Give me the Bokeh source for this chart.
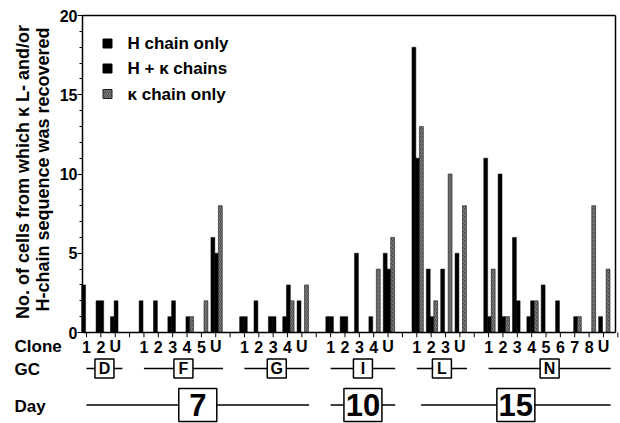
import numpy as np
from bokeh.plotting import figure
from bokeh.models import Range1d, SingleIntervalTicker
from bokeh.core.properties import value
from bokeh.embed import file_html
from bokeh.resources import INLINE

# ---------------- data ----------------
groups = ["D", "F", "G", "I", "L", "N"]
clones = [["1", "2", "U"],
          ["1", "2", "3", "4", "5", "U"],
          ["1", "2", "3", "4", "U"],
          ["1", "2", "3", "4", "U"],
          ["1", "2", "3", "U"],
          ["1", "2", "3", "4", "5", "6", "7", "8", "U"]]
h_only = [3, 2, 1,
          2, 2, 1, 0, 0, 6,
          1, 2, 1, 1, 2,
          1, 1, 5, 1, 5,
          18, 4, 4, 5,
          11, 10, 6, 1, 3, 2, 0, 0, 1]
h_kappa = [0, 2, 2,
           0, 0, 2, 1, 0, 5,
           1, 0, 1, 3, 0,
           1, 1, 0, 0, 4,
           11, 1, 0, 0,
           1, 1, 2, 2, 0, 0, 1, 0, 0]
kappa_only = [0, 0, 0,
              0, 0, 0, 1, 2, 8,
              0, 0, 0, 2, 3,
              0, 0, 0, 4, 6,
              13, 2, 10, 8,
              4, 1, 0, 2, 0, 0, 1, 8, 4]
days = ["7", "10", "15"]
day_groups = [["D", "F", "G"], ["I"], ["L", "N"]]
series_names = ["H chain only", "H + \u03ba chains", "\u03ba chain only"]
y_title = ["No. of cells from which \u03ba L- and/or", "H-chain sequence was recovered"]
row_names = ["Clone", "GC", "Day"]

# ---------------- layout ----------------
FONT = "Liberation Sans"
W_PX, H_PX = 620, 423
X0_PX, DX_PX = 86.0, 14.36      # pixel of slot 0, pixels per slot
Y0_PX, DY_PX = 332.0, 15.85     # pixel of value 0, pixels per unit
HATCH = dict(fill_color="#505050", line_color="#1e1e1e", hatch_pattern="right_diagonal_line",
             hatch_color="#a8a8a8", hatch_scale=4, hatch_weight=0.6)


def sx(px):
    return (px - X0_PX) / DX_PX


def vy(py):
    return (Y0_PX - py) / DY_PX


slot, labels, grp_span = [], [], {}
pos = 0
for g, cl in zip(groups, clones):
    start = pos
    for c in cl:
        slot.append(pos)
        labels.append(c)
        pos += 1
    grp_span[g] = (start, pos - 1)
    pos += 1
n_slots = pos - 1

p = figure(width=W_PX, height=H_PX,
           x_range=Range1d(sx(0), sx(W_PX)), y_range=Range1d(vy(H_PX), vy(0)),
           output_backend="svg", toolbar_location=None, x_axis_location=None,
           min_border=0, min_border_left=0, min_border_right=0,
           min_border_top=0, min_border_bottom=0)
p.outline_line_color = None
p.xgrid.grid_line_color = None
p.ygrid.grid_line_color = None
p.background_fill_color = "white"
p.border_fill_color = "white"

XL, XR = sx(82), sx(615)

ax = p.yaxis[0]
ax.fixed_location = XL
ax.bounds = (0, 20)
ax.ticker = SingleIntervalTicker(interval=5, num_minor_ticks=5)
ax.axis_line_width = 1.5
ax.major_tick_in = 0
ax.major_tick_out = 5
ax.minor_tick_in = 0
ax.minor_tick_out = 3
ax.major_label_standoff = 0
ax.major_label_text_font = FONT
ax.major_label_text_font_style = "bold"
ax.major_label_text_font_size = "16px"
ax.major_label_text_color = "black"

# bars
W = 0.27
offs = [-0.2, 0.06, 0.32]
vals = [h_only, h_kappa, kappa_only]
for k, (v, o) in enumerate(zip(vals, offs)):
    xs = [s + o for s, t in zip(slot, v) if t > 0]
    ts = [t for t in v if t > 0]
    if k < 2:
        p.vbar(x=xs, top=ts, bottom=0, width=W,
               fill_color="black", line_color="black", line_width=0.5)
    else:
        p.vbar(x=xs, top=ts, bottom=0, width=W, line_width=0.6, **HATCH)

# frame: x axis line, top and right borders, ticks
p.segment(x0=[XL, XL, XR], y0=[0, 20, 0], x1=[XR, XR, XR], y1=[0, 20, 20],
          line_color="black", line_width=1.5)
ticks = list(range(0, n_slots + 1))
p.segment(x0=ticks, y0=[0] * len(ticks), x1=ticks, y1=[-0.3] * len(ticks),
          line_color="black", line_width=1)

# clone labels
Y_CLONE = vy(346)
p.text(x=slot, y=[Y_CLONE] * len(slot), text=labels, text_align="center", text_baseline="middle",
       text_font=value(FONT), text_font_style="bold", text_font_size="16px", text_color="black")

# GC row
Y_GC = vy(368)
gx0 = [grp_span[g][0] for g in groups]
gx1 = [grp_span[g][1] + 0.5 for g in groups]
gxc = [(a + b) / 2 for a, b in zip(gx0, gx1)]
p.segment(x0=gx0, y0=[Y_GC] * 6, x1=gx1, y1=[Y_GC] * 6, line_color="black", line_width=1.5)
p.rect(x=gxc, y=[Y_GC] * 6, width=19, height=19, width_units="screen", height_units="screen",
       fill_color="white", line_color="black", line_width=1.5)
p.text(x=gxc, y=[Y_GC] * 6, text=groups, text_align="center", text_baseline="middle",
       text_font=value(FONT), text_font_style="bold", text_font_size="16px", text_color="black")

# Day row
Y_DAY = vy(404.5)
dx0 = [grp_span[dg[0]][0] for dg in day_groups]
dx1 = [grp_span[dg[-1]][1] + 0.5 for dg in day_groups]
dx0[2] = grp_span["L"][0] + 0.3
dxc = [(a + b) / 2 for a, b in zip(dx0, dx1)]
p.segment(x0=dx0, y0=[Y_DAY] * 3, x1=dx1, y1=[Y_DAY] * 3, line_color="black", line_width=1.5)
p.rect(x=dxc, y=[Y_DAY] * 3, width=38, height=33, width_units="screen", height_units="screen",
       fill_color="white", line_color="black", line_width=1.5)
p.text(x=dxc, y=[Y_DAY] * 3, text=days, text_align="center", text_baseline="middle",
       text_font=value(FONT), text_font_style="bold", text_font_size="31px", text_color="black")

# legend (manual swatches + labels)
ly = [vy(43), vy(68), vy(93.5)]
lx = sx(107)
p.rect(x=[lx] * 2, y=ly[:2], width=9, height=9, width_units="screen", height_units="screen",
       fill_color="black", line_color="black")
p.rect(x=[lx], y=ly[2:], width=9, height=9, width_units="screen", height_units="screen", **HATCH)
p.text(x=[sx(127)] * 3, y=ly, text=series_names, text_align="left", text_baseline="middle",
       text_font=value(FONT), text_font_style="bold", text_font_size="17px", text_color="black")

# left-hand row names
p.text(x=[sx(14)] * 3, y=[Y_CLONE, vy(369), vy(406)], text=row_names, text_align="left",
       text_baseline="middle", text_font=value(FONT), text_font_style="bold",
       text_font_size="17px", text_color="black")

# y-axis title (two lines)
p.text(x=[sx(22.5), sx(42)], y=[vy(171.5), vy(169)], text=y_title, angle=np.pi / 2,
       text_align="center", text_baseline="middle", text_font=value(FONT),
       text_font_style="bold", text_font_size="18px", text_color="black")

open("out.html", "w").write(file_html(p, INLINE))
